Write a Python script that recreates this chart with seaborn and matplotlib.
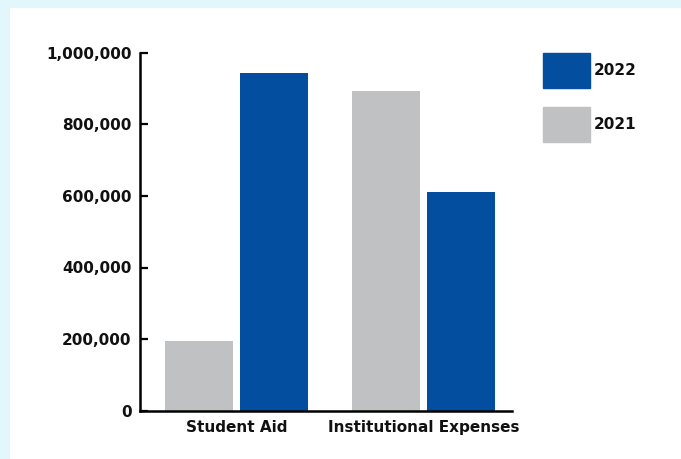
import matplotlib
matplotlib.use("Agg")
import matplotlib.pyplot as plt
import matplotlib.patches as mpatches
import matplotlib.ticker as mticker
import seaborn as sns
import pandas as pd

categories = ["Student Aid", "Institutional Expenses"]
years = ["2021", "2022"]
values_2021 = [195000, 893000]
values_2022 = [943000, 610000]
y_ticks = [0, 200000, 400000, 600000, 800000, 1000000]

df = pd.DataFrame({
    "category": categories * 2,
    "year": [years[0]] * 2 + [years[1]] * 2,
    "value": values_2021 + values_2022,
})

sns.set_theme(style="white")
plt.rcParams["font.family"] = ["DejaVu Sans"]

palette = {"2021": "#C0C1C3", "2022": "#044EA0"}
text_color = "#111111"

fig = plt.figure(figsize=(6.81, 4.59), dpi=100)
fig.patch.set_facecolor("#E2F7FB")
fig.patches.append(mpatches.Rectangle((10 / 681, 0), 1, 1 - 8 / 459,
                                      transform=fig.transFigure,
                                      facecolor="white", edgecolor="none", zorder=-5))

ax = fig.add_axes([140 / 681, 1 - 410.7 / 459, (512 - 140) / 681, (410.7 - 52.7) / 459])
ax.set_facecolor("none")

sns.barplot(data=df, x="category", y="value", hue="year", order=categories,
            hue_order=years, palette=palette, width=0.8, gap=0.09,
            saturation=1, ax=ax, legend=False, edgecolor="none", linewidth=0)

ax.set_xlim(-0.516, 1.473)
ax.set_ylim(0, 1000000)
ax.set_yticks(y_ticks)
ax.yaxis.set_major_formatter(mticker.FuncFormatter(lambda v, p: f"{int(v):,}"))
ax.set_xlabel("")
ax.set_ylabel("")

for s in ["top", "right"]:
    ax.spines[s].set_visible(False)
for s in ["left", "bottom"]:
    ax.spines[s].set_visible(True)
    ax.spines[s].set_color("black")
    ax.spines[s].set_linewidth(1.8)

ax.tick_params(axis="y", direction="in", length=6, width=1.6, color="black",
               pad=6, labelsize=11, labelcolor=text_color, left=True)
ax.tick_params(axis="x", length=0, pad=7, labelsize=11, labelcolor=text_color)
for lab in ax.get_yticklabels() + ax.get_xticklabels():
    lab.set_fontweight("bold")

handles = [mpatches.Patch(color=palette["2022"], label="2022"),
           mpatches.Patch(color=palette["2021"], label="2021")]
leg = fig.legend(handles=handles, loc="upper left",
                 bbox_to_anchor=(543 / 681, 1 - 53 / 459),
                 bbox_transform=fig.transFigure, frameon=False,
                 borderpad=0, borderaxespad=0,
                 handlelength=3.05, handleheight=3.17, handletextpad=0.3,
                 labelspacing=1.2, prop={"size": 11, "weight": "bold"})
for t in leg.get_texts():
    t.set_color(text_color)

fig.savefig("out.png", dpi=100, facecolor=fig.get_facecolor())
